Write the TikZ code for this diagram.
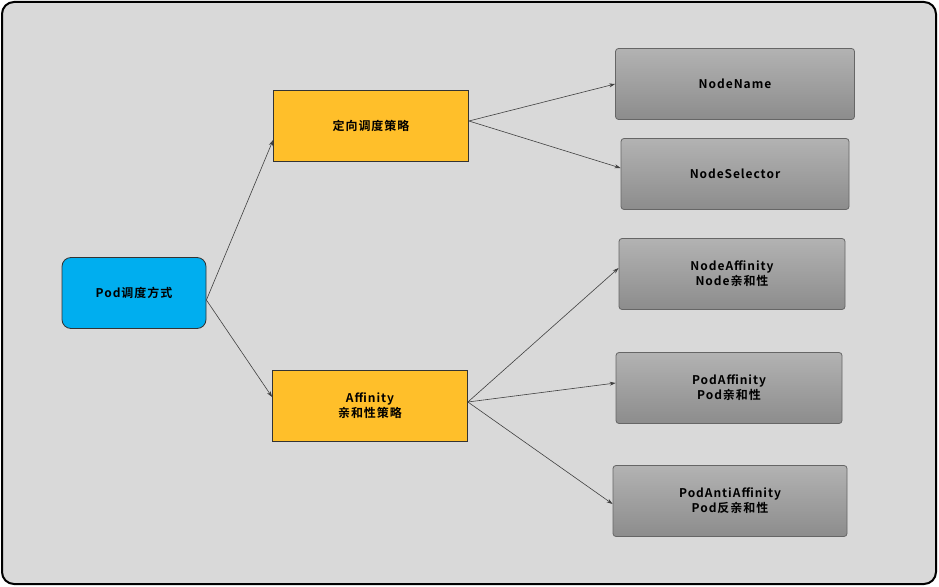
\documentclass[tikz,border=0pt]{standalone}
\usepackage{fontspec}
\setmainfont{Noto Sans CJK SC}[BoldFont={Noto Sans CJK SC Bold},LetterSpace=8]
\usetikzlibrary{arrows.meta,positioning}
\definecolor{podblue}{HTML}{00AEEF}
\definecolor{stratorange}{HTML}{FFBF2A}
\definecolor{bggray}{HTML}{D9D9D9}
\tikzset{
  box/.style = {draw=black!80, thick, minimum height=71pt, align=center, font=\bfseries\fontsize{12}{15}\selectfont},
  strat/.style = {box, fill=stratorange, minimum width=195pt},
  leaf/.style = {box, draw=black!60, rounded corners=3pt, top color=black!30, bottom color=black!45, minimum width=230pt},
  link/.style = {-{Stealth[length=6pt,width=4pt]}, black!75, semithick}
}
\begin{document}
\begin{tikzpicture}[x=1pt,y=-1pt]
    \useasboundingbox (0,0) rectangle (939,586);
    \draw[fill=bggray, line width=2pt, rounded corners=12pt] (2,2) rectangle (936,584);

    \node[box, fill=podblue, rounded corners=9pt, minimum width=144pt] (pod) at (134,293) {Pod调度方式};
    \node[strat] (directed) at (371,126) {定向调度策略};
    \node[strat] (affinity) at (370,406) {Affinity\\亲和性策略};

    \node[leaf, minimum width=239pt] (nodename) at (735,84) {NodeName};
    \node[leaf, minimum width=228pt] (nodesel) at (735,174) {NodeSelector};
    \node[leaf, minimum width=226pt] (nodeaff) at (732,274) {NodeAffinity\\Node亲和性};
    \node[leaf, minimum width=226pt] (podaff) at (729,388) {PodAffinity\\Pod亲和性};
    \node[leaf, minimum width=234pt] (podanti) at (730,501) {PodAntiAffinity\\Pod反亲和性};

    \draw[link] ([yshift=-7pt]pod.east) -- ([yshift=-14pt]directed.west);
    \draw[link] ([yshift=-7pt]pod.east) -- ([yshift=9pt]affinity.west);
    \foreach \leaf/\dy in {nodename/0, nodesel/6}
    \draw[link] ([yshift=5pt]directed.east) -- ([yshift=\dy pt]\leaf.west);
    \foreach \leaf/\dy in {nodeaff/6, podaff/5, podanti/-3}
    \draw[link] ([yshift=4pt]affinity.east) -- ([yshift=\dy pt]\leaf.west);
\end{tikzpicture}
\end{document}
